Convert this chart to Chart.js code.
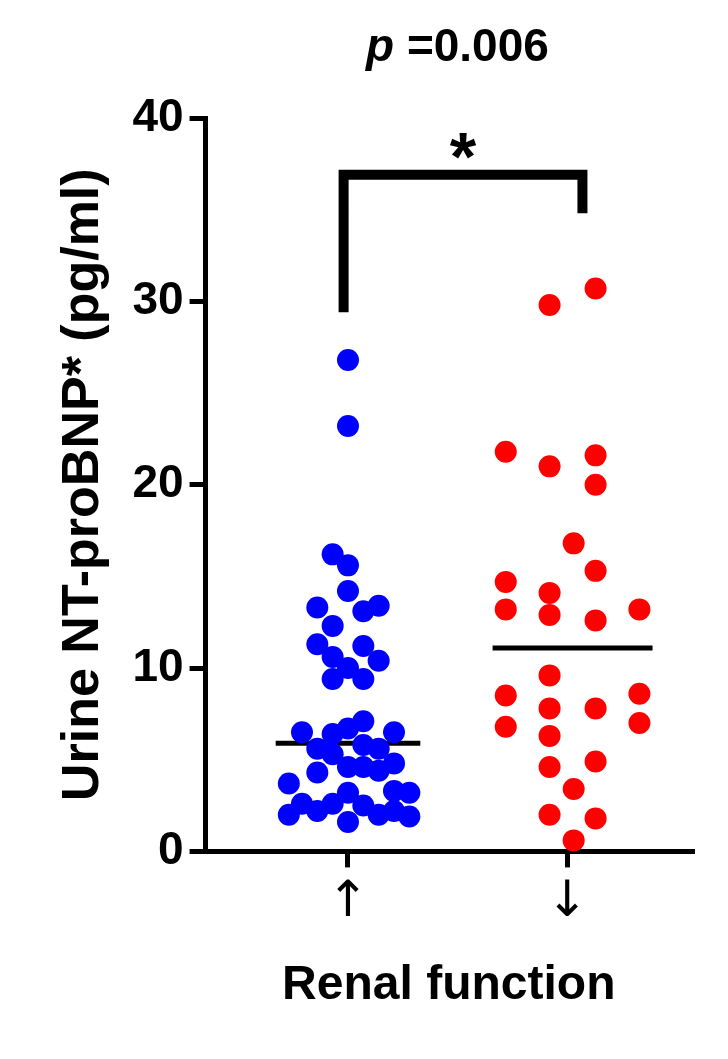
<!DOCTYPE html>
<html>
<head>
<meta charset="utf-8">
<script src="https://cdn.jsdelivr.net/npm/chart.js@4"></script>
<style>
  html, body { margin: 0; padding: 0; background: #fff; }
  #wrap { width: 728px; height: 1059px; }
</style>
</head>
<body>
<div id="wrap"><canvas id="grafico"></canvas></div>
<script>
// grupos: 1 = ↑ función renal, 2 = ↓ función renal
const categorias = ["↑", "↓"];
const yTicks = [0, 10, 20, 30, 40];

// posiciones x (jitter) y valores
const azulX = [1.00, 1.00, 0.93, 1.00, 1.00, 0.86, 1.07, 1.14, 0.93, 0.86, 1.07, 0.93, 1.14, 1.00, 0.93, 1.07,
  0.79, 0.93, 1.00, 1.07, 1.21, 0.86, 0.93, 1.07, 1.14, 1.00, 1.07, 1.14, 1.21, 0.86, 0.73, 1.21, 1.28, 1.00,
  0.79, 0.93, 1.07, 0.73, 0.86, 1.14, 1.21, 1.28, 1.00];
const azulY = [26.8, 23.2, 16.2, 15.6, 14.2, 13.3, 13.1, 13.4, 12.3, 11.3, 11.2, 10.6, 10.4, 10.0, 9.4, 9.4,
  6.5, 6.4, 6.7, 7.1, 6.5, 5.6, 5.3, 5.8, 5.6, 4.6, 4.6, 4.4, 4.8, 4.3, 3.7, 3.3, 3.2, 3.2,
  2.6, 2.6, 2.5, 2.0, 2.2, 2.0, 2.2, 1.9, 1.6];
const rojoX = [2.13, 1.92, 1.72, 1.92, 2.13, 2.13, 2.03, 2.13, 1.72, 1.92, 1.72, 1.92, 2.13, 2.33,
  1.92, 1.72, 2.33, 1.92, 2.13, 1.72, 2.33, 1.92, 1.92, 2.13, 2.03, 1.92, 2.13, 2.03];
const rojoY = [30.7, 29.8, 21.8, 21.0, 21.6, 20.0, 16.8, 15.3, 14.7, 14.1, 13.2, 12.9, 12.6, 13.2,
  9.6, 8.5, 8.6, 7.8, 7.8, 6.8, 7.0, 6.3, 4.6, 4.9, 3.4, 2.0, 1.8, 0.6];

// medias
const mediaAzulX = [0.67, 1.33];
const mediaAzul = 5.9;
const mediaRojoX = [1.66, 2.39];
const mediaRojo = 11.1;

// corchete de significancia
const corcheteX = [0.98, 0.98, 2.07, 2.07];
const corcheteY = [29.4, 36.9, 36.9, 34.8];

const pts = (xs, ys) => xs.map((x, i) => ({ x: x, y: ys[i] }));

const textos = {
  id: "textos",
  afterDraw(chart) {
    const ctx = chart.ctx;
    const xs = chart.scales.x, ys = chart.scales.y;
    ctx.save();
    ctx.fillStyle = "#000";
    ctx.textBaseline = "middle";
    ctx.textAlign = "center";
    ctx.font = "bold 68px Arial, 'Liberation Sans'";
    ctx.fillText("*", xs.getPixelForValue(1.525), ys.getPixelForValue(37.2) - 8);
    ctx.textAlign = "left";
    ctx.font = "italic bold 46px Arial, 'Liberation Sans'";
    const w1 = ctx.measureText("p ").width;
    ctx.fillText("p ", 366, 48);
    ctx.font = "bold 46px Arial, 'Liberation Sans'";
    ctx.fillText("=0.006", 366 + w1, 48);
    ctx.restore();
  }
};

new Chart(document.getElementById("grafico"), {
  type: "scatter",
  data: {
    datasets: [
      { data: pts(azulX, azulY), backgroundColor: "#0000ff", borderWidth: 0, pointRadius: 11 },
      { data: pts(rojoX, rojoY), backgroundColor: "#ff0000", borderWidth: 0, pointRadius: 11 },
      { type: "line", data: pts(mediaAzulX, [mediaAzul, mediaAzul]), borderColor: "#000", borderWidth: 5, pointRadius: 0 },
      { type: "line", data: pts(mediaRojoX, [mediaRojo, mediaRojo]), borderColor: "#000", borderWidth: 5, pointRadius: 0 },
      { type: "line", data: pts(corcheteX, corcheteY), borderColor: "#000", borderWidth: 10, pointRadius: 0, borderJoinStyle: "miter", clip: false }
    ]
  },
  options: {
    responsive: true,
    maintainAspectRatio: false,
    animation: false,
    layout: { padding: { top: 118, right: 36, left: 48, bottom: 40 } },
    plugins: { legend: { display: false }, tooltip: { enabled: false } },
    scales: {
      x: {
        type: "linear",
        min: 0.35,
        max: 2.57,
        afterBuildTicks: (s) => { s.ticks = [{ value: 1 }, { value: 2 }]; },
        ticks: {
          callback: (v) => categorias[v - 1] || "",
          color: "#000",
          font: { size: 50, family: "DejaVu Sans" },
          padding: 6
        },
        grid: { drawOnChartArea: false, tickLength: 16, lineWidth: 5, color: "#000" },
        border: { width: 5, color: "#000" },
        title: {
          display: true,
          text: "Renal function",
          color: "#000",
          font: { size: 48, weight: "bold", family: "Arial, 'Liberation Sans'" },
          padding: { top: 18 }
        }
      },
      y: {
        min: 0,
        max: 40,
        afterBuildTicks: (s) => { s.ticks = yTicks.map(v => ({ value: v })); },
        ticks: {
          color: "#000",
          font: { size: 46, weight: "bold", family: "Arial, 'Liberation Sans'" },
          padding: 6
        },
        grid: { drawOnChartArea: false, tickLength: 16, lineWidth: 5, color: "#000" },
        border: { width: 5, color: "#000" },
        title: {
          display: true,
          text: "Urine NT-proBNP* (pg/ml)",
          color: "#000",
          font: { size: 52, weight: "bold", family: "Arial, 'Liberation Sans'" },
          padding: { bottom: 12 }
        }
      }
    }
  },
  plugins: [textos]
});
</script>
</body>
</html>
